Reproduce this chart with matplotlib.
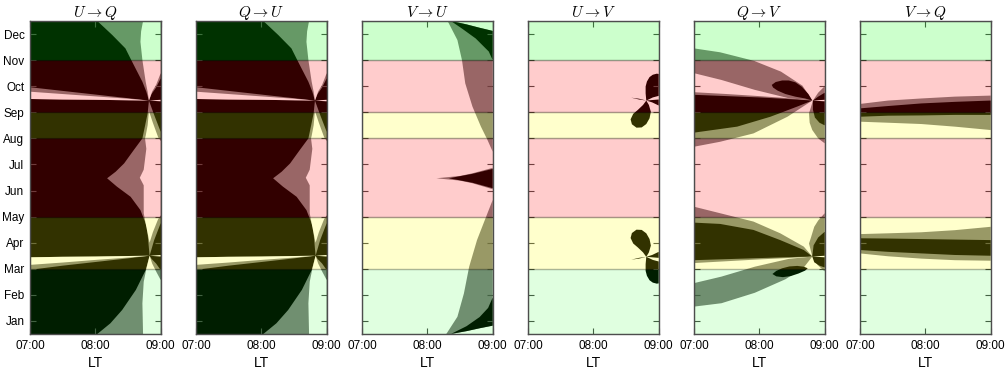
import matplotlib
matplotlib.use("Agg")
import matplotlib.pyplot as plt

plt.rcParams['mathtext.fontset'] = 'cm'
plt.rcParams['font.family'] = ['Liberation Sans Narrow', 'Liberation Sans', 'DejaVu Sans']

# ---------------- axes content ----------------
month_labels = ['Jan', 'Feb', 'Mar', 'Apr', 'May', 'Jun',
                'Jul', 'Aug', 'Sep', 'Oct', 'Nov', 'Dec']
month_ticks = [0.5, 1.5, 2.5, 3.5, 4.5, 5.5, 6.5, 7.5, 8.5, 9.5, 10.5, 11.5]
lt_ticks = [7, 8, 9]
lt_labels = ['07:00', '08:00', '09:00']
titles = [r'$U\rightarrow Q$', r'$Q\rightarrow U$', r'$V\rightarrow U$',
          r'$U\rightarrow V$', r'$Q\rightarrow V$', r'$V\rightarrow Q$']

# seasonal background bands (month position units)
band_lo = [0.0, 2.5, 4.5, 7.5, 8.5, 10.5]
band_hi = [2.5, 4.5, 7.5, 8.5, 10.5, 12.0]
band_colors = ['#00ff00', '#ffff00', '#ff0000', '#ffff00', '#ff0000', '#00ff00']
band_alphas = [0.12, 0.2, 0.2, 0.2, 0.2, 0.2]

# ---------------- leakage regions: (level, LT [h], month position) ----------------
# U->Q (and Q->U, which looks identical)
uq_regions = [
    ('dark', [7, 9, 9, 7], [0, 0, 12, 12]),
    # upper (Nov-Dec) wedge
    ('mid', [8.03, 8.26, 8.46, 8.55, 8.64, 8.72, 8.78, 8.82, 8.86, 8.93, 9.0, 9.0],
            [12, 11.46, 10.95, 10.5, 10.06, 9.67, 9.29, 8.95, 9.2, 9.45, 9.8, 12]),
    ('clear', [8.73, 8.70, 8.69, 8.72, 8.77, 8.80, 8.82, 8.87, 8.93, 9.0, 9.0],
              [12, 11.6, 11.2, 10.5, 9.67, 9.29, 8.95, 9.3, 9.55, 10.0, 12]),
    ('clear', [8.82, 9.0, 9.0], [8.95, 8.98, 8.92]),
    # upper streak from the left
    ('mid', [7.0, 7.5, 8.0, 8.5, 8.82, 8.5, 8.0, 7.5, 7.0],
            [9.46, 9.32, 9.18, 9.04, 8.95, 8.96, 8.98, 8.99, 9.01]),
    ('clear', [7.0, 7.5, 8.0, 8.5, 8.82, 8.5, 8.0, 7.5, 7.0],
              [9.29, 9.2, 9.11, 9.02, 8.95, 8.96, 8.98, 8.99, 9.01]),
    # middle column
    ('mid', [8.82, 8.80, 8.72, 8.59, 8.44, 8.31, 8.18, 8.33, 8.54, 8.69, 8.79, 8.83,
             8.9, 9.0, 9.0, 8.9],
            [8.95, 8.46, 7.5, 7.06, 6.54, 6.22, 5.97, 5.65, 5.26, 4.75, 4.11, 3.0,
             3.6, 4.25, 7.75, 8.4]),
    ('clear', [8.82, 8.80, 8.77, 8.76, 8.78, 8.74, 8.68, 8.74, 8.74, 8.78, 8.83,
               8.88, 8.96, 9.0, 9.0, 8.96, 8.88],
              [8.55, 8.0, 7.6, 7.5, 7.1, 6.3, 5.99, 5.7, 4.63, 4.1, 3.5,
               3.9, 4.4, 4.55, 7.4, 7.55, 8.1]),
    # lower (Jan-Mar) wedge
    ('mid', [8.83, 8.77, 8.62, 8.41, 8.23, 8.03, 9.0, 9.0, 8.93, 8.86],
            [3.0, 2.45, 1.69, 0.92, 0.41, 0.0, 0.0, 2.45, 2.7, 2.88]),
    ('clear', [8.73, 8.72, 8.74, 8.78, 8.83, 8.87, 8.94, 9.0, 9.0],
              [0, 1.18, 2.0, 2.5, 3.0, 2.7, 2.35, 2.07, 0]),
    ('clear', [8.83, 9.0, 9.0], [3.0, 3.03, 2.97]),
    # lower streak from the left
    ('mid', [7.0, 7.5, 8.0, 8.5, 8.83, 8.5, 8.0, 7.5, 7.0],
            [2.94, 2.96, 2.97, 2.99, 3.0, 2.9, 2.76, 2.62, 2.46]),
    ('clear', [7.0, 7.5, 8.0, 8.5, 8.83, 8.5, 8.0, 7.5, 7.0],
              [2.94, 2.96, 2.97, 2.99, 3.0, 2.93, 2.84, 2.74, 2.65]),
]

# V->U
vu_regions = [
    ('mid', [8.31, 8.46, 8.53, 8.58, 8.69, 8.82, 8.92, 9.0, 9.0],
            [12, 11.27, 10.5, 9.61, 8.72, 7.95, 7.44, 6.99, 12]),
    ('clear', [8.38, 9.0, 9.0, 8.8, 8.6], [12, 12, 11.62, 11.74, 11.87]),
    ('dark', [8.36, 8.6, 8.8, 9.0, 9.0, 8.94, 8.74, 8.53],
             [12, 11.87, 11.74, 11.62, 10.5, 10.83, 11.33, 11.71]),
    ('mid', [9.0, 8.92, 8.76, 8.64, 8.56, 8.46, 8.29, 9.0],
            [5.14, 4.63, 3.6, 2.58, 1.56, 0.66, 0.0, 0.0]),
    ('clear', [8.36, 9.0, 9.0, 8.8, 8.6], [0, 0, 0.32, 0.22, 0.11]),
    ('dark', [9.0, 8.93, 8.8, 8.6, 8.36, 8.6, 8.8, 9.0],
             [1.4, 1.0, 0.65, 0.3, 0.0, 0.11, 0.22, 0.32]),
    ('mid', [8.14, 8.5, 8.69, 9.0, 9.0, 8.69, 8.5],
            [5.97, 6.06, 6.16, 6.37, 5.55, 5.78, 5.88]),
    ('dark', [8.33, 8.69, 9.0, 9.0, 8.69],
             [5.97, 6.14, 6.33, 5.59, 5.8]),
]

# U->V
uv_regions = [
    ('dark', [8.81, 8.80, 8.80, 8.82, 8.86, 8.91, 8.97, 9.0, 9.0, 8.91],
             [8.95, 9.23, 9.49, 9.68, 9.85, 9.94, 9.98, 9.97, 9.13, 9.07]),
    ('dark', [8.81, 8.9, 9.0, 9.0, 8.9], [8.95, 8.97, 8.99, 8.76, 8.88]),
    ('dark', [8.58, 8.7, 8.81, 8.7], [9.06, 9.02, 8.95, 8.99]),
    ('dark', [8.81, 8.76, 8.68, 8.61, 8.57, 8.59, 8.66, 8.74, 8.81, 8.86, 8.88, 8.85],
             [8.95, 8.78, 8.59, 8.44, 8.23, 8.04, 7.91, 7.92, 8.05, 8.27, 8.52, 8.78]),
    ('dark', [8.81, 8.80, 8.80, 8.82, 8.86, 8.91, 8.97, 9.0, 9.0, 8.91],
             [2.96, 2.68, 2.42, 2.23, 2.06, 1.97, 1.93, 1.94, 2.78, 2.84]),
    ('dark', [8.81, 8.9, 9.0, 9.0, 8.9], [2.96, 2.94, 2.92, 3.15, 3.03]),
    ('dark', [8.58, 8.7, 8.81, 8.7], [2.85, 2.89, 2.96, 2.92]),
    ('dark', [8.81, 8.76, 8.68, 8.61, 8.57, 8.59, 8.66, 8.74, 8.81, 8.86, 8.88, 8.85],
             [2.96, 3.13, 3.32, 3.47, 3.68, 3.87, 4.0, 3.99, 3.86, 3.64, 3.39, 3.13]),
]

# Q->V
qv_regions = [
    # upper structure
    ('mid', [7.0, 7.4, 7.92, 8.33, 8.66, 8.81, 8.45, 7.93, 7.42, 7.0],
            [10.95, 10.8, 10.47, 10.06, 9.52, 8.95, 9.04, 9.36, 9.74, 10.0]),
    ('dark', [8.19, 8.25, 8.35, 8.45, 8.55, 8.65, 8.75, 8.81, 8.7, 8.55, 8.4, 8.28, 8.21],
             [9.55, 9.66, 9.72, 9.72, 9.65, 9.48, 9.2, 8.95, 9.03, 9.1, 9.2, 9.33, 9.45]),
    ('mid', [7.0, 7.5, 8.0, 8.5, 8.81, 8.43, 7.91, 7.4, 7.0],
            [9.27, 9.2, 9.12, 9.03, 8.95, 8.33, 7.69, 7.37, 7.18]),
    ('dark', [7.0, 7.5, 8.0, 8.5, 8.81, 8.58, 8.17, 7.66, 7.0],
             [9.17, 9.12, 9.07, 9.0, 8.95, 8.72, 8.33, 7.95, 7.72]),
    ('mid', [9.0, 8.9, 8.82, 8.79, 8.76, 8.77, 8.81, 8.9, 9.0],
            [9.5, 9.25, 8.95, 8.7, 8.46, 8.1, 7.82, 7.5, 7.31]),
    ('dark', [9.0, 8.9, 8.82, 8.82, 8.85, 8.92, 9.0],
             [9.25, 9.1, 8.95, 8.6, 8.3, 8.1, 8.0]),
    ('clear', [8.81, 9.0, 9.0], [8.95, 8.98, 8.92]),
    # lower structure
    ('mid', [7.0, 7.4, 7.91, 8.32, 8.68, 8.81, 8.5, 8.0, 7.5, 7.0],
            [4.88, 4.63, 4.31, 3.86, 3.35, 2.97, 2.92, 2.86, 2.79, 2.72]),
    ('dark', [7.0, 7.4, 7.91, 8.32, 8.68, 8.81, 8.5, 8.0, 7.5, 7.0],
             [4.27, 4.22, 3.99, 3.6, 3.22, 2.97, 2.95, 2.91, 2.87, 2.83]),
    ('mid', [7.0, 7.42, 7.93, 8.45, 8.81, 8.68, 8.4, 7.93, 7.42, 7.0],
            [1.95, 2.2, 2.58, 2.88, 2.97, 2.55, 2.1, 1.58, 1.18, 1.05]),
    ('dark', [8.2, 8.26, 8.35, 8.46, 8.58, 8.68, 8.74, 8.7, 8.6, 8.48, 8.36, 8.26],
             [2.3, 2.42, 2.52, 2.59, 2.61, 2.58, 2.52, 2.43, 2.32, 2.22, 2.18, 2.21]),
    ('mid', [9.0, 8.9, 8.84, 8.79, 8.76, 8.81, 8.89, 9.0],
            [4.63, 4.35, 4.11, 3.7, 3.47, 2.97, 2.65, 2.4]),
    ('dark', [9.0, 8.9, 8.83, 8.81, 8.84, 8.92, 9.0],
             [3.92, 3.7, 3.4, 2.97, 2.75, 2.62, 2.55]),
    ('clear', [8.81, 9.0, 9.0], [2.97, 3.0, 2.94]),
]

# V->Q
vq_lt = [7.0, 7.43, 7.94, 8.45, 9.0]
vq_mid_top_hi = [8.82, 8.95, 9.03, 9.10, 9.14]
vq_mid_top_lo = [8.14, 8.10, 8.05, 7.95, 7.82]
vq_dark_top_hi = [8.65, 8.74, 8.84, 8.90, 8.95]
vq_dark_top_lo = [8.33, 8.37, 8.38, 8.40, 8.40]
vq_mid_bot_hi = [3.83, 3.86, 3.90, 3.98, 4.11]
vq_mid_bot_lo = [3.09, 2.98, 2.89, 2.83, 2.81]
vq_dark_bot_hi = [3.67, 3.66, 3.64, 3.62, 3.60]
vq_dark_bot_lo = [3.22, 3.15, 3.09, 3.03, 3.00]

vq_regions = [
    ('mid', vq_lt + vq_lt[::-1], vq_mid_top_hi + vq_mid_top_lo[::-1]),
    ('dark', vq_lt + vq_lt[::-1], vq_dark_top_hi + vq_dark_top_lo[::-1]),
    ('mid', vq_lt + vq_lt[::-1], vq_mid_bot_hi + vq_mid_bot_lo[::-1]),
    ('dark', vq_lt + vq_lt[::-1], vq_dark_bot_hi + vq_dark_bot_lo[::-1]),
]

panel_regions = [uq_regions, uq_regions, vu_regions, uv_regions, qv_regions, vq_regions]
level_colors = {'dark': 'black', 'mid': '0.5', 'clear': 'white'}

# ---------------- figure ----------------
W, H = 1007, 369
fig = plt.figure(figsize=(W / 100, H / 100), dpi=100, facecolor='white')

frame_col = '0.3'
for i, (title, regions) in enumerate(zip(titles, panel_regions)):
    ax = fig.add_axes([(30 + 166 * i) / W, 35 / H, 130.7 / W, 313 / H])
    ax.set_facecolor('white')
    for level, lt, mon in regions:
        ax.fill(lt, mon, facecolor=level_colors[level], edgecolor='none',
                lw=0, zorder=1)
    for lo, hi, c, a in zip(band_lo, band_hi, band_colors, band_alphas):
        ax.axhspan(lo, hi, facecolor=c, edgecolor='k', lw=1.0, alpha=a, zorder=2)
    ax.set_xlim(7, 9)
    ax.set_ylim(0, 12)
    ax.set_xticks(lt_ticks)
    ax.set_xticklabels(lt_labels, fontsize=8.5)
    ax.set_yticks(month_ticks)
    if i == 0:
        ax.set_yticklabels(month_labels, fontsize=8.5)
    else:
        ax.set_yticklabels([])
    ax.tick_params(direction='in', top=True, right=True, length=4,
                   width=0.8, color=frame_col, pad=4)
    for sp in ax.spines.values():
        sp.set_color(frame_col)
        sp.set_linewidth(1.0)
        sp.set_zorder(5)
    ax.set_title(title, fontsize=11, pad=3)
    ax.set_xlabel('LT', fontsize=10, labelpad=3)

fig.savefig('out.png', dpi=100, facecolor='white')
